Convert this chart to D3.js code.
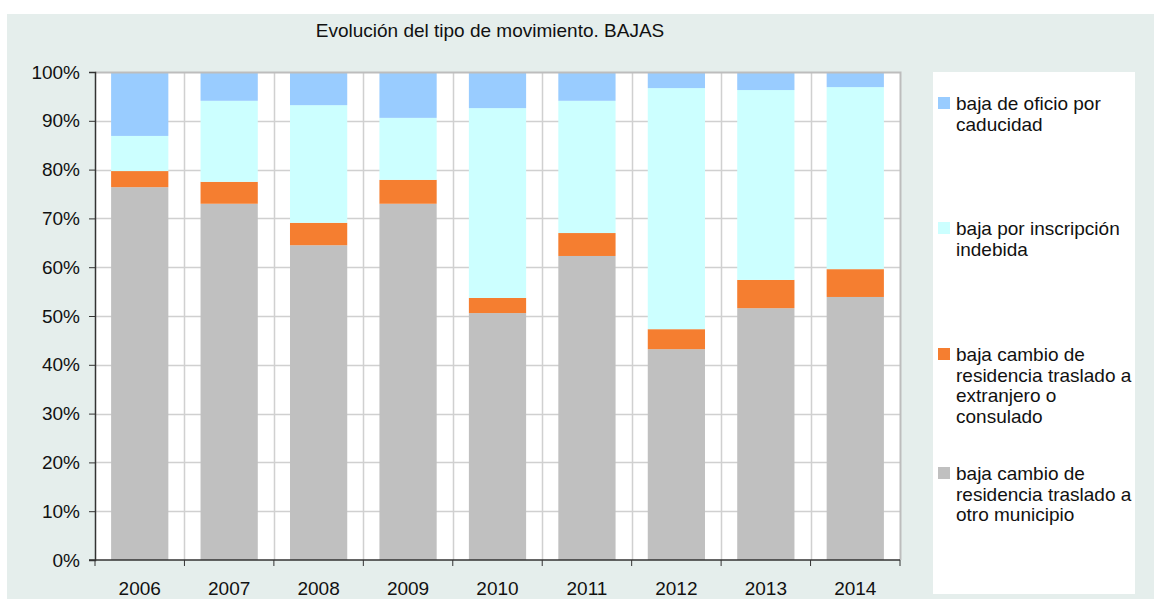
<!DOCTYPE html>
<html>
<head>
<meta charset="utf-8">
<script src="https://cdn.jsdelivr.net/npm/d3@7"></script>
<style>
  html, body { margin: 0; padding: 0; background: #fff; }
  svg { display: block; font-family: "Liberation Sans", Arial, sans-serif; }
</style>
</head>
<body>
<div id="chart"></div>
<script>
// data (share of each type, %)
const years = ['2006', '2007', '2008', '2009', '2010', '2011', '2012', '2013', '2014'];
const otroMunicipio = [76.4, 73.0, 64.5, 73.0, 50.6, 62.3, 43.2, 51.6, 53.9];
const extranjero = [3.3, 4.5, 4.6, 4.9, 3.1, 4.7, 4.1, 5.8, 5.7];
const inscripcionIndebida = [7.2, 16.6, 24.1, 12.7, 38.9, 27.1, 49.4, 38.9, 37.3];
const caducidad = [13.1, 5.9, 6.8, 9.4, 7.4, 5.9, 3.3, 3.7, 3.1];
const yTicks = [0, 0.1, 0.2, 0.3, 0.4, 0.5, 0.6, 0.7, 0.8, 0.9, 1];

const series = [
    { key: 'otro', label: ['baja cambio de', 'residencia traslado a', 'otro municipio'], color: '#c0c0c0', values: otroMunicipio },
    { key: 'extr', label: ['baja cambio de', 'residencia traslado a', 'extranjero o', 'consulado'], color: '#f57e30', values: extranjero },
    { key: 'indeb', label: ['baja por inscripción', 'indebida'], color: '#ccffff', values: inscripcionIndebida },
    { key: 'cad', label: ['baja de oficio por', 'caducidad'], color: '#99ccff', values: caducidad },
];

const W = 1154, H = 599;
const plot = { left: 95, top: 72, right: 900, bottom: 560 };
const fontSize = 19;

const rows = years.map((y, i) => {
    const r = { year: y };
    series.forEach(s => { r[s.key] = s.values[i]; });
    return r;
});
const stacked = d3.stack()
    .keys(series.map(s => s.key))
    .offset(d3.stackOffsetExpand)(rows);

const svg = d3.select('#chart').append('svg')
    .attr('width', W).attr('height', H);

// panel background
svg.append('rect')
    .attr('x', 7).attr('y', 14)
    .attr('width', W - 7).attr('height', H - 14)
    .attr('fill', '#e5eeec');

svg.append('text')
    .attr('x', 490).attr('y', 37)
    .attr('text-anchor', 'middle')
    .attr('font-size', fontSize)
    .attr('fill', '#111')
    .text('Evolución del tipo de movimiento. BAJAS');

const x = d3.scaleBand()
    .domain(years)
    .range([plot.left, plot.right])
    .paddingInner(0.36)
    .paddingOuter(0.18);

const y = d3.scaleLinear()
    .domain([0, 1])
    .range([plot.bottom, plot.top]);

// plot area
svg.append('rect')
    .attr('x', plot.left).attr('y', plot.top)
    .attr('width', plot.right - plot.left)
    .attr('height', plot.bottom - plot.top)
    .attr('fill', '#fff');

const step = (plot.right - plot.left) / years.length;
const grid = svg.append('g').attr('class', 'grid');
grid.selectAll('line.h')
    .data(yTicks.slice(1, -1))
    .join('line')
    .attr('class', 'h')
    .attr('x1', plot.left).attr('x2', plot.right)
    .attr('y1', d => Math.round(y(d)) + 0.5).attr('y2', d => Math.round(y(d)) + 0.5)
    .attr('stroke', '#d0d0d0').attr('stroke-width', 1.5);
grid.selectAll('line.v')
    .data(d3.range(1, years.length))
    .join('line')
    .attr('class', 'v')
    .attr('x1', d => Math.round(plot.left + d * step) + 0.5)
    .attr('x2', d => Math.round(plot.left + d * step) + 0.5)
    .attr('y1', plot.top).attr('y2', plot.bottom)
    .attr('stroke', '#d0d0d0').attr('stroke-width', 1.5);

// bars
svg.append('g')
    .selectAll('g')
    .data(stacked)
    .join('g')
    .attr('fill', (d, i) => series[i].color)
    .selectAll('rect')
    .data(d => d)
    .join('rect')
    .attr('x', d => x(d.data.year))
    .attr('y', d => y(d[1]))
    .attr('width', x.bandwidth())
    .attr('height', d => y(d[0]) - y(d[1]));

// top and right frame
svg.append('path')
    .attr('d', `M${plot.left},${plot.top + 0.5}H${plot.right + 0.5}V${plot.bottom}`)
    .attr('fill', 'none')
    .attr('stroke', '#bdbdbd').attr('stroke-width', 2);

// y axis
const yAxis = d3.axisLeft(y)
    .tickValues(yTicks)
    .tickFormat(d3.format('.0%'))
    .tickSize(6)
    .tickPadding(9);
const yAxisG = svg.append('g')
    .attr('transform', `translate(${plot.left},0)`)
    .call(yAxis);
yAxisG.select('.domain').attr('stroke', '#333').attr('stroke-width', 1.5);
yAxisG.selectAll('.tick line').attr('stroke', '#333');
yAxisG.selectAll('.tick text').attr('font-size', fontSize).attr('fill', '#111')
    .attr('font-family', '"Liberation Sans", Arial, sans-serif');

// x axis
const xAxisG = svg.append('g')
    .attr('transform', `translate(0,${plot.bottom})`);
xAxisG.append('line')
    .attr('x1', plot.left - 6).attr('x2', plot.right)
    .attr('y1', 0).attr('y2', 0)
    .attr('stroke', '#333').attr('stroke-width', 1.5);
xAxisG.selectAll('line.tk')
    .data(d3.range(0, years.length + 1))
    .join('line')
    .attr('class', 'tk')
    .attr('x1', d => plot.left + d * step).attr('x2', d => plot.left + d * step)
    .attr('y1', 0).attr('y2', 6)
    .attr('stroke', '#333');
xAxisG.selectAll('text')
    .data(years)
    .join('text')
    .attr('x', d => x(d) + x.bandwidth() / 2)
    .attr('y', 35)
    .attr('text-anchor', 'middle')
    .attr('font-size', fontSize)
    .attr('fill', '#111')
    .text(d => d);

// legend
const legend = svg.append('g');
legend.append('rect')
    .attr('x', 933).attr('y', 72)
    .attr('width', 202).attr('height', 522)
    .attr('fill', '#fff');
const legendY = [103, 228, 354, 473];
const legendItems = series.slice().reverse();
const item = legend.selectAll('g.item')
    .data(legendItems)
    .join('g')
    .attr('class', 'item')
    .attr('transform', (d, i) => `translate(938,${legendY[i]})`);
item.append('rect')
    .attr('x', 0).attr('y', -6)
    .attr('width', 12).attr('height', 12)
    .attr('fill', d => d.color);
item.append('text')
    .attr('font-size', fontSize)
    .attr('fill', '#111')
    .selectAll('tspan')
    .data(d => d.label)
    .join('tspan')
    .attr('x', 18)
    .attr('y', (d, i) => i * 20.5 + 7)
    .text(d => d);
</script>
</body>
</html>
